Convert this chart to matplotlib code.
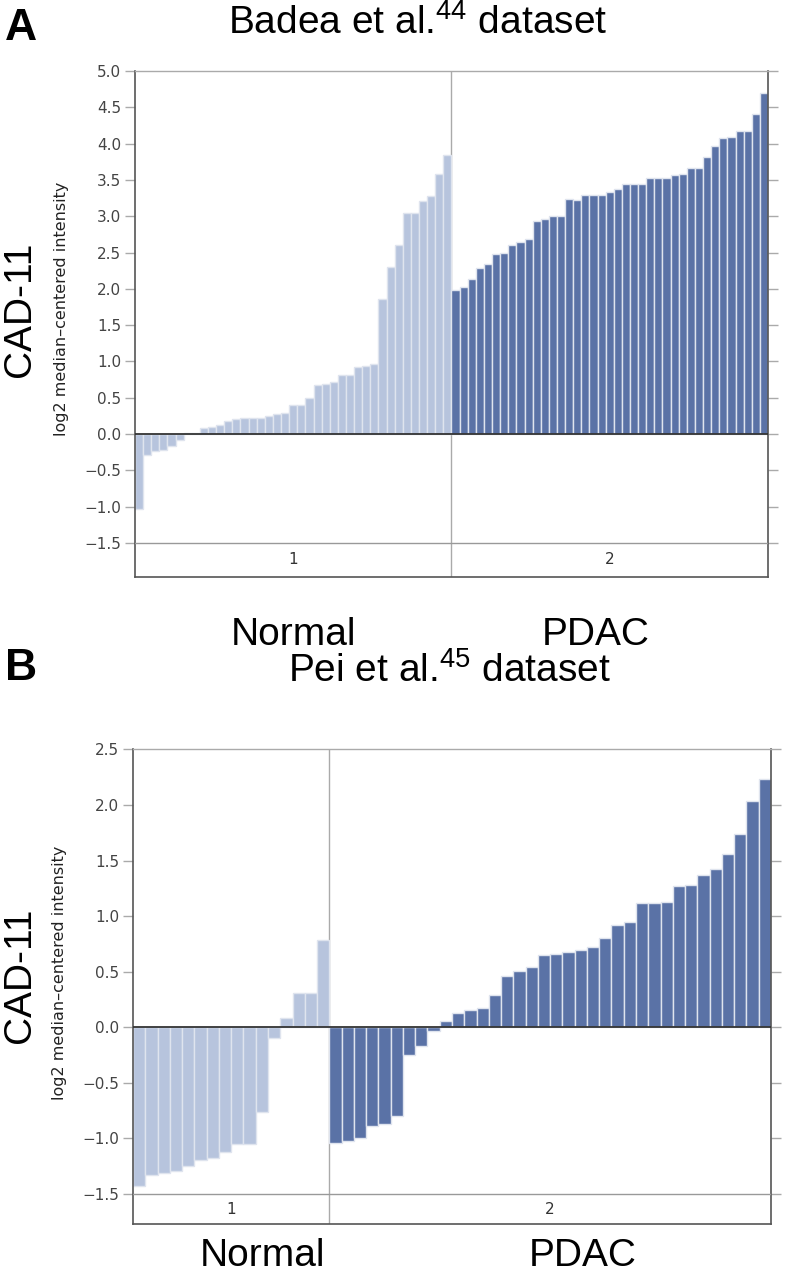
import numpy as np
import matplotlib
matplotlib.use("Agg")
import matplotlib.pyplot as plt

plt.rcParams['mathtext.fontset'] = 'custom'
plt.rcParams['mathtext.rm'] = 'Liberation Sans'

# Badea et al. dataset (panel A)
badea_normal = [-1.03, -0.29, -0.24, -0.22, -0.16, -0.08, 0.01, 0.02, 0.08, 0.10,
                0.13, 0.18, 0.20, 0.22, 0.22, 0.22, 0.25, 0.27, 0.29, 0.40,
                0.40, 0.49, 0.67, 0.69, 0.71, 0.81, 0.81, 0.92, 0.94, 0.96,
                1.86, 2.30, 2.60, 3.04, 3.04, 3.21, 3.28, 3.58, 3.84]
badea_pdac = [1.98, 2.02, 2.14, 2.28, 2.34, 2.48, 2.49, 2.61, 2.64, 2.69,
              2.94, 2.96, 3.01, 3.01, 3.24, 3.22, 3.29, 3.29, 3.29, 3.34,
              3.38, 3.44, 3.44, 3.44, 3.52, 3.52, 3.52, 3.57, 3.58, 3.67,
              3.67, 3.82, 3.97, 4.08, 4.09, 4.18, 4.18, 4.41, 4.70]

# Pei et al. dataset (panel B)
pei_normal = [-1.43, -1.33, -1.31, -1.29, -1.25, -1.19, -1.18, -1.12, -1.05, -1.05,
              -0.76, -0.10, 0.08, 0.31, 0.31, 0.79]
pei_pdac = [-1.04, -1.02, -1.00, -0.89, -0.87, -0.80, -0.25, -0.17, -0.03, 0.06,
            0.13, 0.16, 0.17, 0.29, 0.46, 0.51, 0.54, 0.65, 0.66, 0.68,
            0.70, 0.72, 0.80, 0.92, 0.95, 1.12, 1.12, 1.13, 1.27, 1.28,
            1.37, 1.42, 1.56, 1.74, 2.04, 2.23]

group_names = ["Normal", "PDAC"]
band_labels = ["1", "2"]

light = '#b7c4dd'
dark = '#5a72a6'
edge = '#dfe4ee'

fig = plt.figure(figsize=(7.88, 12.8), dpi=100)


def panel(rect, normal, pdac, ymax, ybottom):
    ax = fig.add_axes(rect)
    n1, n2 = len(normal), len(pdac)
    x = np.arange(n1 + n2)
    ax.bar(x[:n1], normal, width=1.0, color=light, edgecolor=edge, linewidth=1.0, zorder=2)
    ax.bar(x[n1:], pdac, width=1.0, color=dark, edgecolor=edge, linewidth=1.0, zorder=2)
    ax.set_xlim(-0.5, n1 + n2 - 0.5)
    ax.set_ylim(ybottom, ymax)
    ax.axhline(0, color='#333333', lw=1.3, zorder=3)
    ax.axhline(-1.5, color='#999999', lw=1.0, zorder=3)
    ax.axvline(n1 - 0.5, color='#aaaaaa', lw=1.0, zorder=1)
    ticks = np.arange(-1.5, ymax + 0.01, 0.5)
    ax.set_yticks(ticks)
    ax.set_yticklabels([('%.1f' % t).replace('-', '\u2212') for t in ticks])
    ax.set_xticks([])
    ax.tick_params(axis='y', which='both', direction='out', length=7, width=1,
                   color='#aaaaaa', labelcolor='#444444', labelsize=11,
                   left=True, right=True, pad=3)
    for s in ['left', 'right', 'bottom']:
        ax.spines[s].set_color('#555555')
        ax.spines[s].set_linewidth(1.2)
    ax.spines['top'].set_color('#aaaaaa')
    ax.spines['top'].set_linewidth(1.0)
    yb = (-1.5 + ybottom) / 2
    ax.text((n1 - 1) / 2, yb, band_labels[0], ha='center', va='center', fontsize=11, color='#333333')
    ax.text(n1 + (n2 - 1) / 2, yb, band_labels[1], ha='center', va='center', fontsize=11, color='#333333')
    ax.set_ylabel('log2 median\u2013centered intensity', fontsize=11.5, color='#222222')
    ax.yaxis.set_label_coords(-0.104, 0.53)
    return ax


axA = panel([0.1713, 0.5492, 0.8033, 0.3953], badea_normal, badea_pdac, 5.0, -1.97)
axB = panel([0.1688, 0.0437, 0.8096, 0.3708], pei_normal, pei_pdac, 2.5, -1.77)

sans = 'Liberation Sans'
fig.text(0.006, 0.978, 'A', fontsize=32, fontweight='bold', family=sans, va='center')
fig.text(0.006, 0.478, 'B', fontsize=32, fontweight='bold', family=sans, va='center')
fig.text(0.530, 0.982, r'Badea et al.$^{\mathrm{44}}$ dataset', fontsize=28, family=sans, ha='center', va='center')
fig.text(0.571, 0.476, r'Pei et al.$^{\mathrm{45}}$ dataset', fontsize=28, family=sans, ha='center', va='center')

fig.text(0.373, 0.504, group_names[0], fontsize=28, family=sans, ha='center', va='center')
fig.text(0.756, 0.504, group_names[1], fontsize=28, family=sans, ha='center', va='center')
fig.text(0.333, 0.019, group_names[0], fontsize=28, family=sans, ha='center', va='center')
fig.text(0.740, 0.019, group_names[1], fontsize=28, family=sans, ha='center', va='center')

fig.text(0.026, 0.758, 'CAD-11', fontsize=28, family=sans, rotation=90, ha='center', va='center')
fig.text(0.026, 0.238, 'CAD-11', fontsize=28, family=sans, rotation=90, ha='center', va='center')

fig.savefig('out.png', dpi=100)
